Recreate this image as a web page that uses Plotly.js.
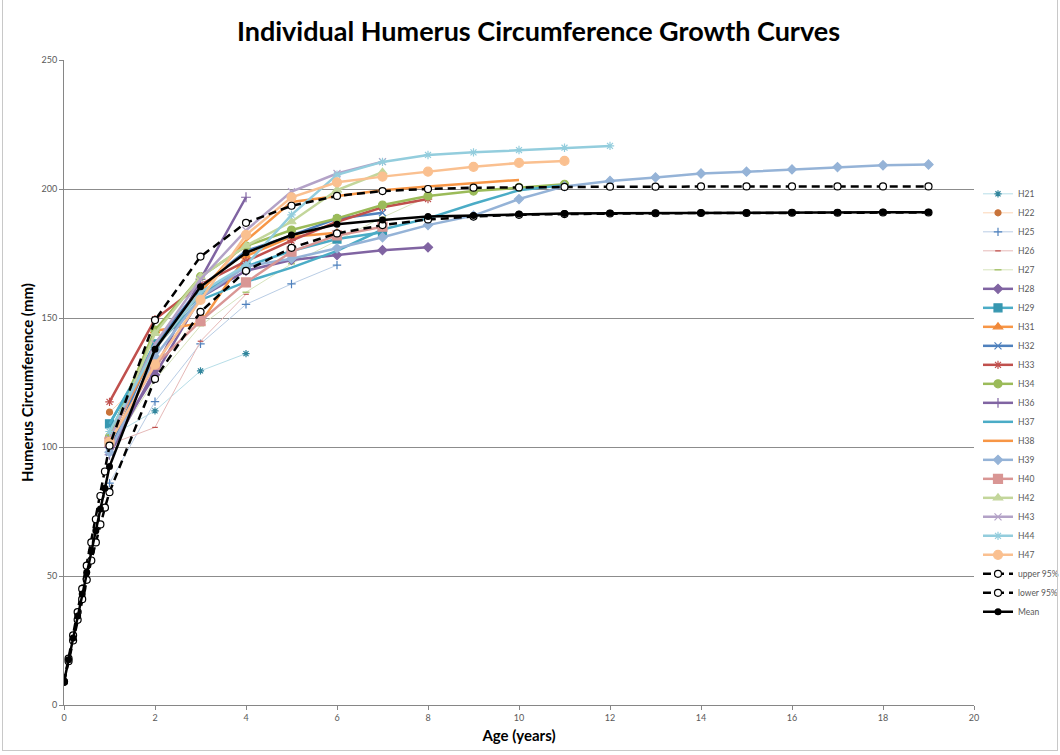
<!DOCTYPE html>
<html>
<head>
<meta charset="utf-8">
<script src="https://cdn.plot.ly/plotly-3.0.1.min.js"></script>
<style>
html,body{margin:0;padding:0;background:#fff;}
#frame{position:absolute;left:2px;top:0px;width:1056px;height:751px;border:1px solid #c8c8c8;border-top:none;box-sizing:border-box;pointer-events:none;z-index:5;}
#chart{position:absolute;left:0;top:0;width:1060px;height:755px;}
</style>
</head>
<body>
<div id="chart"></div>
<div id="frame"></div>
<script>
// ---- Data ----
const H21_age = [1, 2, 3, 4];
const H21 = [104, 114, 129.5, 136.2];
const H22_age = [1, 2, 3];
const H22 = [113.5, 130, 151];
const H25_age = [1, 2, 3, 4, 5, 6];
const H25 = [86, 117.6, 140, 155.3, 163.2, 170.5];
const H26_age = [1, 2, 3, 4];
const H26 = [101, 107.6, 141, 159.2];
const H27_age = [1, 2, 3, 4, 5, 6, 7, 8];
const H27 = [99, 126, 147, 160, 171, 180, 189, 197];
const H28_age = [1, 2, 3, 4, 5, 6, 7, 8];
const H28 = [100, 128, 158, 168.3, 172.5, 174.4, 176.3, 177.4];
const H29_age = [1, 2, 3, 4, 5, 6, 7];
const H29 = [109, 140, 159, 170, 176, 180.6, 183.2];
const H31_age = [1, 2, 3, 4, 5, 6];
const H31 = [104, 145, 148, 174, 181.5, 183];
const H32_age = [1, 2, 3, 4, 5, 6, 7];
const H32 = [98, 140, 162, 176, 182, 188.5, 190.8];
const H33_age = [1, 2, 3, 4, 5, 6, 7, 8];
const H33 = [117.5, 149.5, 163, 172, 180, 187.3, 192.9, 196.1];
const H34_age = [1, 2, 3, 4, 5, 6, 7, 8, 9, 10, 11];
const H34 = [104, 145.3, 166, 177.9, 184.1, 188.6, 193.8, 197.3, 199.2, 200.6, 201.8];
const H36_age = [1, 2, 3, 4];
const H36 = [97, 130, 165, 196.8];
const H37_age = [1, 2, 3, 4, 5, 6, 7, 8, 9, 10, 11];
const H37 = [109, 139, 157, 164, 169.5, 176, 184.3, 188.6, 194.3, 199.5, 201.5];
const H38_age = [1, 2, 3, 4, 5, 6, 7, 8, 9, 10];
const H38 = [103, 138, 160, 180, 195, 197.3, 199.5, 201, 202.3, 203.5];
const H39_age = [1, 2, 3, 4, 5, 6, 7, 8, 9, 10, 11, 12, 13, 14, 15, 16, 17, 18, 19];
const H39 = [98, 135, 158, 170, 173, 177, 181.3, 186, 189.7, 196.1, 201, 203.1, 204.5, 206, 206.7, 207.6, 208.5, 209.2, 209.5];
const H40_age = [1, 2, 3, 4, 5, 6, 7];
const H40 = [102, 131.8, 148.8, 163.8, 175.7, 182, 185.4];
const H42_age = [1, 2, 3, 4, 5, 6, 7];
const H42 = [102, 144, 166, 178, 187.3, 199.6, 206.5];
const H43_age = [1, 2, 3, 4, 5, 6, 7];
const H43 = [103, 140, 165, 184, 199, 206, 210.6];
const H44_age = [1, 2, 3, 4, 5, 6, 7, 8, 9, 10, 11, 12];
const H44 = [106, 138, 160, 170.5, 190, 205.5, 210.5, 213.2, 214.2, 215.1, 216, 216.7];
const H47_age = [1, 2, 3, 4, 5, 6, 7, 8, 9, 10, 11];
const H47 = [102, 132, 157, 182.2, 196.8, 202.6, 204.8, 206.7, 208.6, 210.1, 210.9];

const model_age = [0, 0.1, 0.2, 0.3, 0.4, 0.5, 0.6, 0.7, 0.8, 0.9, 1, 2, 3, 4, 5, 6, 7, 8, 9, 10, 11, 12, 13, 14, 15, 16, 17, 18, 19];
const upper95 = [9, 18, 27, 36, 45, 54, 63, 72, 81, 90.5, 100.5, 149.2, 173.8, 186.9, 193.5, 197.3, 199.2, 200, 200.5, 200.6, 200.8, 200.9, 200.9, 201, 201, 201, 201, 201, 201];
const lower95 = [9, 17, 25, 33, 41, 48.5, 56, 63, 70, 76.5, 82.5, 126.4, 152.4, 168.3, 177.2, 182.8, 186, 188.2, 189.3, 190, 190.3, 190.5, 190.6, 190.7, 190.7, 190.8, 190.8, 190.9, 190.9];
const meanCurve = [9, 17.5, 26, 34.5, 43, 51.5, 59.5, 67.5, 76, 84, 92.4, 137.9, 162.1, 175.3, 182.2, 186.3, 188, 189.3, 189.7, 190.3, 190.5, 190.6, 190.7, 190.8, 190.8, 190.9, 190.9, 191, 191];

const xTicks = [0, 2, 4, 6, 8, 10, 12, 14, 16, 18, 20];
const yTicks = [0, 50, 100, 150, 200, 250];

// ---- Styles ----
function ind(name, x, y, lineColor, lineWidth, symbol, mColor, mSize, mode) {
  return {
    type: 'scatter', name: name, x: x, y: y,
    mode: mode || 'lines+markers',
    line: {color: lineColor, width: lineWidth},
    marker: {symbol: symbol, color: mColor, size: mSize, line: {color: mColor, width: 1.2}}
  };
}
const traces = [
  ind('H21', H21_age, H21, '#B7DEE8', 1, 'asterisk-open', '#31859C', 6),
  ind('H22', H22_age, H22, '#FCD5B5', 1, 'circle', '#C8733A', 6),
  ind('H25', H25_age, H25, '#B9CDE5', 1, 'cross-thin-open', '#4F81BD', 6),
  ind('H26', H26_age, H26, '#E6B9B8', 1, 'line-ew-open', '#C0504D', 4),
  ind('H27', H27_age, H27, '#D7E4BD', 1, 'line-ew-open', '#9BBB59', 5),
  ind('H28', H28_age, H28, '#8064A2', 2.5, 'diamond', '#8064A2', 7),
  ind('H29', H29_age, H29, '#4BACC6', 2.5, 'square', '#3797B0', 8),
  ind('H31', H31_age, H31, '#F79646', 2.5, 'triangle-up', '#F0893A', 8),
  ind('H32', H32_age, H32, '#4F81BD', 2.5, 'x-thin-open', '#4F81BD', 7),
  ind('H33', H33_age, H33, '#C0504D', 2.5, 'asterisk-open', '#C0504D', 7),
  ind('H34', H34_age, H34, '#9BBB59', 2.5, 'circle', '#9BBB59', 8),
  ind('H36', H36_age, H36, '#8064A2', 2.5, 'cross-thin-open', '#8064A2', 7),
  ind('H37', H37_age, H37, '#4BACC6', 2.5, 'circle', '#4BACC6', 1, 'lines'),
  ind('H38', H38_age, H38, '#F79646', 2.5, 'circle', '#F79646', 1, 'lines'),
  ind('H39', H39_age, H39, '#95B3D7', 2.5, 'diamond', '#95B3D7', 7),
  ind('H40', H40_age, H40, '#D99694', 2.5, 'square', '#D99694', 9),
  ind('H42', H42_age, H42, '#C3D69B', 2.5, 'triangle-up', '#C3D69B', 8),
  ind('H43', H43_age, H43, '#B3A2C7', 2.5, 'x-thin-open', '#B3A2C7', 7),
  ind('H44', H44_age, H44, '#93CDDD', 2.5, 'asterisk-open', '#93CDDD', 7),
  ind('H47', H47_age, H47, '#FAC090', 2.5, 'circle', '#FAC090', 9),
  {type: 'scatter', name: 'upper 95%', x: model_age, y: upper95, mode: 'lines+markers',
   line: {color: '#000', width: 2.5, dash: '8px,5px'},
   marker: {symbol: 'circle', size: 7, color: '#fff', line: {color: '#000', width: 1.2}}},
  {type: 'scatter', name: 'lower 95%', x: model_age, y: lower95, mode: 'lines+markers',
   line: {color: '#000', width: 2.5, dash: '8px,5px'},
   marker: {symbol: 'circle', size: 7, color: '#fff', line: {color: '#000', width: 1.2}}},
  {type: 'scatter', name: 'Mean', x: model_age, y: meanCurve, mode: 'lines+markers',
   line: {color: '#000', width: 2.5},
   marker: {symbol: 'circle', size: 7, color: '#000'}}
];

const layout = {
  width: 1060, height: 755,
  paper_bgcolor: '#fff', plot_bgcolor: '#fff',
  margin: {l: 64, r: 86, t: 60, b: 50, autoexpand: false},
  font: {family: 'Lato, "Open Sans", sans-serif', color: '#595959'},
  title: {text: 'Individual Humerus Circumference Growth Curves',
          font: {family: 'Lato, "Open Sans", sans-serif', size: 27, color: '#000', weight: 'bold'},
          x: 0.508, xanchor: 'center', y: 0.958, yanchor: 'middle'},
  xaxis: {
    range: [0, 20], tickvals: xTicks, ticktext: xTicks.map(String),
    showgrid: false, zeroline: false,
    showline: true, linecolor: '#868686', linewidth: 1,
    ticks: 'outside', ticklen: 4, tickcolor: '#868686',
    tickfont: {size: 9, color: '#595959'},
    title: {text: 'Age (years)', font: {size: 15, color: '#000', weight: 'bold'}, standoff: 8}
  },
  yaxis: {
    range: [0, 250], tickvals: yTicks, ticktext: yTicks.map(String),
    showgrid: true, gridcolor: '#8c8c8c', gridwidth: 1, zeroline: false,
    showline: true, linecolor: '#868686', linewidth: 1,
    ticks: 'outside', ticklen: 4, tickcolor: '#868686',
    tickfont: {size: 9, color: '#595959'},
    title: {text: 'Humerus Circumference (mm)', font: {size: 15, color: '#000', weight: 'bold'}, standoff: 4}
  },
  showlegend: true,
  legend: {xref: 'container', x: 978 / 1060, xanchor: 'left', y: 0.815, yanchor: 'top',
           font: {size: 8.5, color: '#595959'}, bgcolor: 'rgba(0,0,0,0)',
           tracegroupgap: 0, itemwidth: 30}
};

Plotly.newPlot('chart', traces, layout, {displayModeBar: false, staticPlot: true});
</script>
</body>
</html>
